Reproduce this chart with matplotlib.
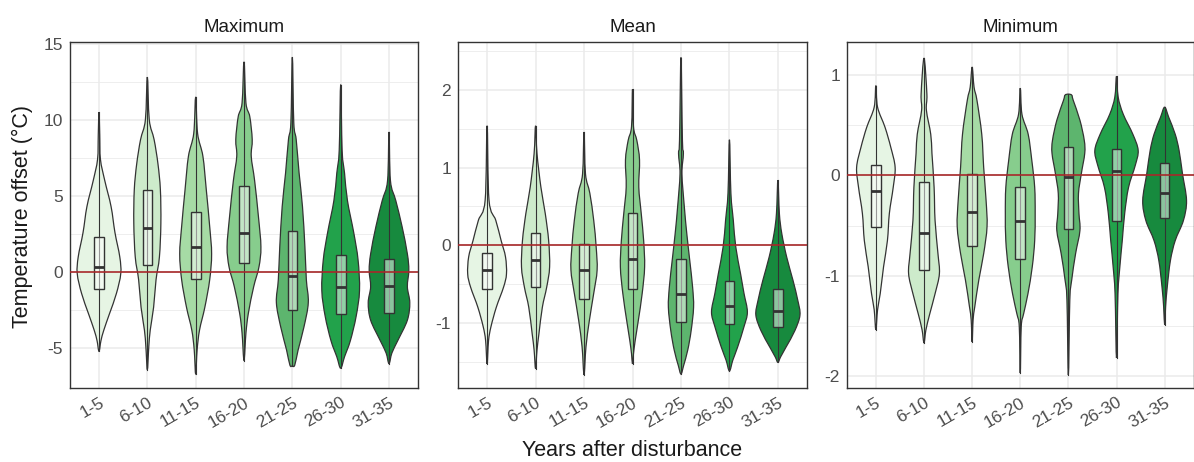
import numpy as np
import matplotlib.pyplot as plt
from matplotlib.path import Path
from matplotlib.patches import PathPatch, Rectangle

plt.rcParams['font.family'] = ['Liberation Sans', 'DejaVu Sans']
plt.rcParams['axes.unicode_minus'] = False

groups = ['1-5', '6-10', '11-15', '16-20', '21-25', '26-30', '31-35']
fills = ['#e6f5e4', '#cdebcb', '#a6dba5', '#87cd8d', '#5db56e', '#22a24b', '#178a3e']

# violin outlines: y knots and half widths (in category units)
max_y = [
    [-5.2, -4.5, -3.8, -2.7, -1.4, -0.1, 1.0, 2.6, 4.3, 6.0, 7.4, 9.0, 10.5],
    [-6.4, -4.9, -3.8, -2.3, -0.5, 1.0, 3.2, 5.4, 7.1, 8.7, 10.0, 12.8],
    [-6.7, -5.1, -3.8, -2.3, -0.5, 1.2, 3.0, 5.4, 7.6, 9.1, 11.5],
    [-5.8, -4.0, -2.7, -0.96, 0.35, 1.66, 3.6, 6.0, 7.6, 8.7, 10.2, 11.1, 13.8],
    [-6.15, -6.1, -5.1, -3.6, -2.0, -0.5, 1.66, 4.3, 6.5, 8.7, 9.8, 14.1],
    [-6.3, -5.55, -4.5, -2.9, -1.2, 0.8, 2.6, 4.7, 6.5, 8.0, 12.3],
    [-6.0, -5.3, -4.5, -3.15, -2.0, -0.96, 0.13, 1.2, 3.0, 4.7, 6.0, 9.2],
]
max_w = [
    [0, 0.04, 0.1, 0.22, 0.36, 0.45, 0.43, 0.33, 0.25, 0.12, 0.03, 0.015, 0],
    [0, 0.03, 0.06, 0.13, 0.18, 0.25, 0.28, 0.27, 0.22, 0.14, 0.04, 0],
    [0, 0.03, 0.08, 0.19, 0.29, 0.33, 0.29, 0.22, 0.15, 0.04, 0],
    [0, 0.04, 0.09, 0.2, 0.31, 0.35, 0.30, 0.22, 0.15, 0.17, 0.12, 0.04, 0],
    [0, 0.05, 0.12, 0.24, 0.33, 0.29, 0.26, 0.21, 0.14, 0.08, 0.03, 0],
    [0, 0.08, 0.2, 0.32, 0.39, 0.36, 0.27, 0.14, 0.08, 0.03, 0],
    [0, 0.06, 0.18, 0.38, 0.43, 0.38, 0.41, 0.38, 0.27, 0.14, 0.03, 0],
]
max_q1 = [-1.1, 0.44, -0.48, 0.57, -2.5, -2.75, -2.7]
max_med = [0.33, 2.9, 1.66, 2.58, -0.26, -0.96, -0.9]
max_q3 = [2.3, 5.4, 3.95, 5.64, 2.7, 1.1, 0.85]

mean_y = [
    [-1.53, -1.23, -1.05, -0.80, -0.54, -0.37, -0.15, 0.06, 0.32, 0.58, 1.54],
    [-1.59, -1.35, -1.14, -0.80, -0.54, -0.28, 0.06, 0.41, 0.75, 1.18, 1.54],
    [-1.67, -1.31, -0.97, -0.62, -0.32, -0.02, 0.32, 0.67, 0.92, 1.46],
    [-1.53, -1.40, -1.23, -0.97, -0.62, -0.28, 0.06, 0.41, 0.75, 1.10, 1.35, 1.53, 2.01],
    [-1.66, -1.55, -1.35, -1.10, -0.80, -0.54, -0.19, 0.15, 0.49, 0.92, 1.18, 1.35, 2.42],
    [-1.62, -1.48, -1.31, -1.05, -0.86, -0.62, -0.37, -0.02, 0.32, 0.67, 1.36],
    [-1.51, -1.44, -1.31, -1.10, -0.90, -0.71, -0.45, -0.15, 0.15, 0.41, 0.84],
]
mean_w = [
    [0, 0.03, 0.08, 0.19, 0.34, 0.40, 0.38, 0.29, 0.18, 0.04, 0],
    [0, 0.03, 0.07, 0.14, 0.23, 0.29, 0.27, 0.2, 0.11, 0.03, 0],
    [0, 0.04, 0.11, 0.2, 0.27, 0.25, 0.2, 0.12, 0.03, 0],
    [0, 0.02, 0.055, 0.12, 0.2, 0.25, 0.23, 0.18, 0.13, 0.145, 0.09, 0.02, 0],
    [0, 0.055, 0.14, 0.21, 0.26, 0.24, 0.18, 0.12, 0.07, 0.02, 0.05, 0.03, 0],
    [0, 0.07, 0.17, 0.30, 0.37, 0.30, 0.23, 0.13, 0.08, 0.03, 0],
    [0, 0.055, 0.17, 0.35, 0.455, 0.41, 0.31, 0.18, 0.08, 0.03, 0],
]
mean_q1 = [-0.56, -0.54, -0.69, -0.57, -0.99, -1.02, -1.05]
mean_med = [-0.32, -0.19, -0.32, -0.18, -0.63, -0.78, -0.85]
mean_q3 = [-0.095, 0.16, 0.02, 0.41, -0.18, -0.46, -0.57]

min_y = [
    [-1.54, -1.34, -1.18, -0.91, -0.65, -0.38, -0.12, 0.08, 0.28, 0.48, 0.68, 0.895],
    [-1.67, -1.54, -1.38, -1.18, -0.98, -0.78, -0.45, -0.12, 0.22, 0.41, 0.65, 0.81, 1.17],
    [-1.66, -1.44, -1.31, -1.04, -0.78, -0.51, -0.25, 0.08, 0.41, 0.75, 0.88, 1.08],
    [-1.97, -1.51, -1.38, -1.18, -0.91, -0.65, -0.38, -0.12, 0.15, 0.41, 0.61, 0.87],
    [-1.99, -1.24, -1.04, -0.78, -0.55, -0.38, -0.18, 0.02, 0.22, 0.35, 0.55, 0.75, 0.80, 0.81],
    [-1.82, -1.18, -0.91, -0.65, -0.38, -0.12, 0.10, 0.25, 0.41, 0.61, 0.78, 0.99],
    [-1.49, -1.31, -1.11, -0.85, -0.65, -0.45, -0.25, 0.02, 0.25, 0.41, 0.58, 0.68],
]
min_w = [
    [0, 0.035, 0.09, 0.16, 0.24, 0.28, 0.36, 0.40, 0.31, 0.19, 0.035, 0],
    [0, 0.04, 0.12, 0.23, 0.32, 0.29, 0.23, 0.21, 0.165, 0.14, 0.05, 0.06, 0],
    [0, 0.02, 0.055, 0.14, 0.24, 0.31, 0.29, 0.24, 0.2, 0.10, 0.04, 0],
    [0, 0.02, 0.07, 0.16, 0.25, 0.30, 0.31, 0.30, 0.24, 0.165, 0.035, 0],
    [0, 0.03, 0.07, 0.15, 0.24, 0.22, 0.21, 0.27, 0.34, 0.33, 0.24, 0.10, 0.07, 0],
    [0, 0.03, 0.07, 0.12, 0.17, 0.25, 0.39, 0.45, 0.34, 0.14, 0.035, 0],
    [0, 0.02, 0.055, 0.12, 0.22, 0.39, 0.455, 0.37, 0.30, 0.22, 0.085, 0],
]
min_q1 = [-0.51, -0.94, -0.70, -0.83, -0.53, -0.45, -0.42]
min_med = [-0.155, -0.57, -0.37, -0.45, -0.017, 0.043, -0.18]
min_q3 = [0.10, -0.066, 0.01, -0.12, 0.28, 0.265, 0.12]

titles = ['Maximum', 'Mean', 'Minimum']
ylims = [(-7.6, 15.1), (-1.84, 2.62), (-2.12, 1.33)]
majors = [[-5, 0, 5, 10, 15], [-1, 0, 1, 2], [-2, -1, 0, 1]]
minors = [[-2.5, 2.5, 7.5, 12.5], [-1.5, -0.5, 0.5, 1.5, 2.5], [-1.5, -0.5, 0.5]]


def violin_path(c, ys, ws):
    """Closed smooth outline through the knots (Catmull-Rom as cubic Bezier)"""
    pts = [(c + w, y) for y, w in zip(ys, ws)]
    pts += [(c - w, y) for y, w in zip(ys[-2:0:-1], ws[-2:0:-1])]
    pts = np.array(pts, dtype=float)
    n = len(pts)
    verts = [pts[0]]
    codes = [Path.MOVETO]
    for i in range(n):
        p0, p1, p2, p3 = pts[i - 1], pts[i], pts[(i + 1) % n], pts[(i + 2) % n]
        verts += [p1 + (p2 - p0) / 6, p2 - (p3 - p1) / 6, p2]
        codes += [Path.CURVE4] * 3
    verts.append(pts[0])
    codes.append(Path.CLOSEPOLY)
    return Path(verts, codes)


fig = plt.figure(figsize=(11.94, 4.62), dpi=100)
W, H = 1194, 462
boxes = [(70, 418), (458, 807), (847, 1193.5)]
top, bottom = 42, 388

panels = [
    (max_y, max_w, max_q1, max_med, max_q3),
    (mean_y, mean_w, mean_q1, mean_med, mean_q3),
    (min_y, min_w, min_q1, min_med, min_q3),
]

line_col = '#333333'
for k, (vy, vw, q1, med, q3) in enumerate(panels):
    l, r = boxes[k]
    ax = fig.add_axes([l / W, 1 - bottom / H, (r - l) / W, (bottom - top) / H])
    ax.set_xlim(0.4, 7.6)
    ax.set_ylim(*ylims[k])
    ax.set_axisbelow(True)
    ax.set_yticks(majors[k])
    ax.set_yticklabels([str(t) for t in majors[k]])
    ax.set_yticks(minors[k], minor=True)
    ax.set_xticks(range(1, 8))
    ax.set_xticklabels(groups, rotation=30, ha='right', rotation_mode='anchor')
    ax.grid(True, which='major', color='#ebebeb', lw=1.1)
    ax.grid(True, which='minor', axis='y', color='#ebebeb', lw=0.6)
    ax.tick_params(which='both', length=0, pad=5, labelsize=12.5, labelcolor='#4d4d4d')
    for s in ax.spines.values():
        s.set_color(line_col)
        s.set_linewidth(1.0)
    ax.set_title(titles[k], fontsize=13.5, color='#1a1a1a', pad=7)

    for i in range(len(groups)):
        c = i + 1
        ax.add_patch(PathPatch(violin_path(c, vy[i], vw[i]), facecolor=fills[i],
                               edgecolor=line_col, lw=0.9, zorder=2))
        ax.plot([c, c], [vy[i][0], vy[i][-1]], color=line_col, lw=0.8, zorder=3)
        ax.add_patch(Rectangle((c - 0.1, q1[i]), 0.2, q3[i] - q1[i], facecolor=(1, 1, 1, 0.5),
                               edgecolor=line_col, lw=1.0, zorder=4))
        ax.plot([c - 0.1, c + 0.1], [med[i], med[i]], color=line_col, lw=2.0,
                solid_capstyle='butt', zorder=5)
    ax.axhline(0, color='#a8282a', lw=1.2, zorder=6)

fig.text(22 / W, 1 - 216 / H, 'Temperature offset (°C)', rotation=90,
         ha='center', va='center', fontsize=15.5, color='#1a1a1a')
fig.text(632 / W, 1 - 451 / H, 'Years after disturbance',
         ha='center', va='center', fontsize=15.5, color='#1a1a1a')

fig.savefig('out.png', dpi=100)
